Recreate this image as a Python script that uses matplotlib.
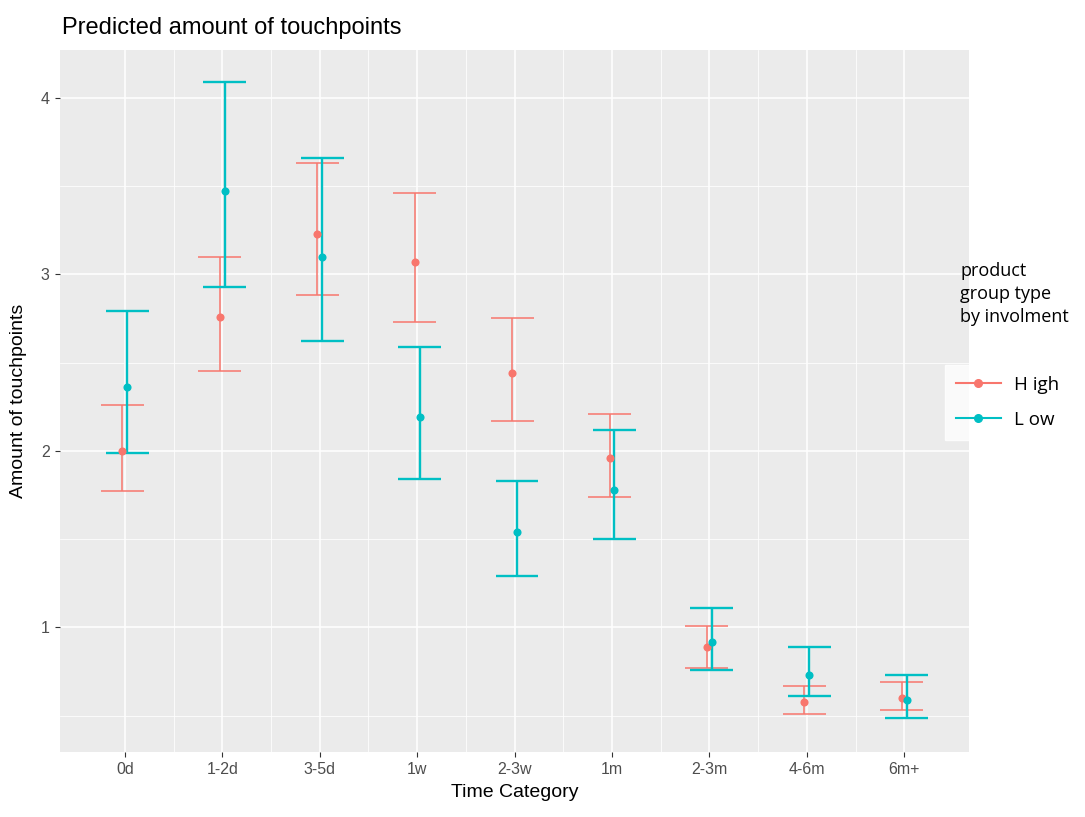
import numpy as np
import matplotlib.pyplot as plt
from matplotlib.lines import Line2D

# ===================== dados =====================
categorias = ["0d", "1-2d", "3-5d", "1w", "2-3w", "1m", "2-3m", "4-6m", "6m+"]

high_media = [2.00, 2.76, 3.23, 3.07, 2.44, 1.96, 0.89, 0.58, 0.60]
high_sup = [2.26, 3.10, 3.63, 3.46, 2.75, 2.21, 1.01, 0.67, 0.69]
high_inf = [1.77, 2.45, 2.88, 2.73, 2.17, 1.74, 0.77, 0.51, 0.53]

low_media = [2.36, 3.47, 3.10, 2.19, 1.54, 1.78, 0.92, 0.73, 0.59]
low_sup = [2.79, 4.09, 3.66, 2.59, 1.83, 2.12, 1.11, 0.89, 0.73]
low_inf = [1.99, 2.93, 2.62, 1.84, 1.29, 1.50, 0.76, 0.61, 0.49]

grupos = ["H igh", "L ow"]
cores = ["#F8766D", "#00BFC4"]

plt.rcParams['font.family'] = ['Liberation Sans', 'DejaVu Sans']

fig = plt.figure(figsize=(10.85, 8.17), dpi=100)
ax = fig.add_axes([0.0553, 0.0796, 0.8378, 0.8592])
ax.set_facecolor("#EBEBEB")

xpos = np.arange(1, len(categorias) + 1)
desloc = 0.025      # dodge
meia_largura = 0.22  # largura do "cap"

series = [
    (high_media, high_sup, high_inf, -desloc, cores[0], 1.1),
    (low_media, low_sup, low_inf, desloc, cores[1], 1.7),
]
for media, sup, inf, dx, cor, lw in series:
    x = xpos + dx
    ax.vlines(x, inf, sup, color=cor, linewidth=lw, zorder=3)
    ax.hlines(sup, x - meia_largura, x + meia_largura, color=cor, linewidth=lw, zorder=3)
    ax.hlines(inf, x - meia_largura, x + meia_largura, color=cor, linewidth=lw, zorder=3)
    ax.scatter(x, media, s=34, color=cor, zorder=4, linewidths=0)

ax.set_xlim(0.335, 9.665)
ax.set_ylim(0.295, 4.27)
ax.set_xticks(xpos)
ax.set_xticklabels(categorias)
ax.set_yticks([1, 2, 3, 4])
ax.set_xticks(xpos[:-1] + 0.5, minor=True)
ax.set_yticks([0.5, 1.5, 2.5, 3.5], minor=True)
ax.grid(True, which="major", color="white", linewidth=1.1, zorder=0)
ax.grid(True, which="minor", color="white", linewidth=0.55, zorder=0)
ax.set_axisbelow(True)
for s in ax.spines.values():
    s.set_visible(False)
ax.tick_params(which="major", length=3.5, width=0.8, color="#333333",
               labelcolor="#4D4D4D", labelsize=11.5, pad=4)
ax.tick_params(which="minor", length=0)

ax.set_xlabel("Time Category", fontsize=14, color="black", labelpad=5)
ax.set_ylabel("Amount of touchpoints", fontsize=14, color="black", labelpad=10)
fig.text(0.057, 0.966, "Predicted amount of touchpoints", fontsize=17,
         ha="left", va="center", color="black")

# legenda
fig.text(0.885, 0.640, "product\ngroup type\nby involment", fontsize=13,
         ha="left", va="center", linespacing=1.35, family=['Open Sans', 'DejaVu Sans'])
handles = [Line2D([0], [0], color=c, linewidth=1.5, marker="o", markersize=5.5)
           for c in cores]
leg = fig.legend(handles, grupos, loc="upper left", bbox_to_anchor=(0.862, 0.565),
                 frameon=True, handlelength=2.4, labelspacing=0.9,
                 borderpad=0.6, handletextpad=0.7,
                 prop={'family': ['Open Sans', 'DejaVu Sans'], 'size': 13.5})
leg.get_frame().set_facecolor("white")
leg.get_frame().set_edgecolor("white")
leg.get_frame().set_boxstyle("square", pad=0.0)

fig.savefig("out.png", dpi=100)
